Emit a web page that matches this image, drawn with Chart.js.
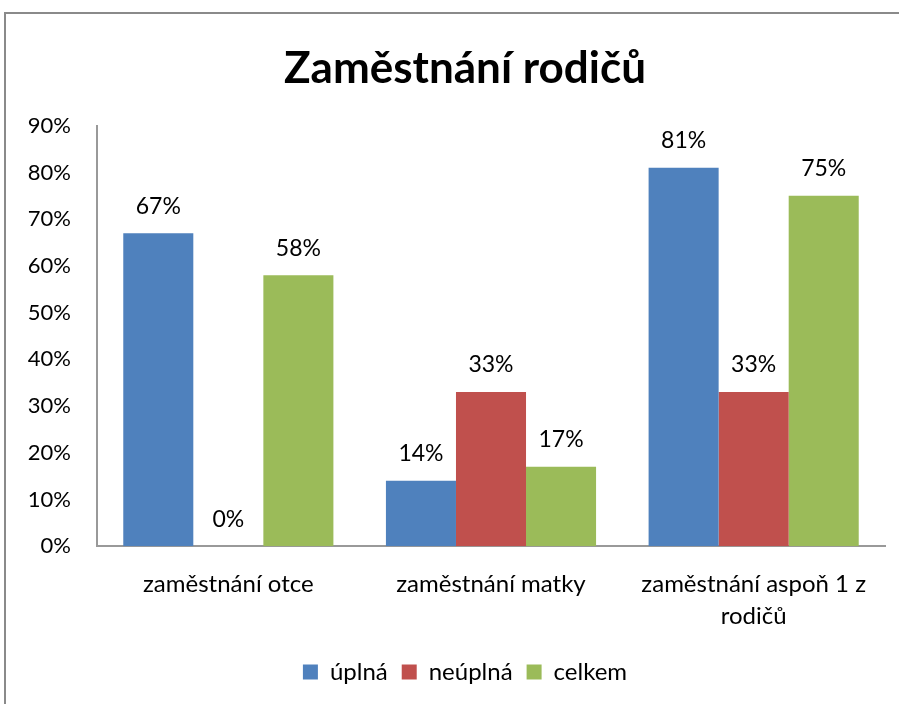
<!DOCTYPE html>
<html>
<head>
<meta charset="utf-8">
<script src="https://cdn.jsdelivr.net/npm/chart.js@4.4.1/dist/chart.umd.min.js"></script>
<style>
  html, body { margin: 0; padding: 0; background: #fff; }
  #wrap { width: 899px; height: 704px; }
</style>
</head>
<body>
<div id="wrap"><canvas id="barChart"></canvas></div>
<script>
var categories = ['zaměstnání otce', 'zaměstnání matky', ['zaměstnání aspoň 1 z', 'rodičů']];
var seriesNames = ['úplná', 'neúplná', 'celkem'];
var uplna = [67, 14, 81];
var neuplna = [0, 33, 33];
var celkem = [58, 17, 75];
var yTicks = [0, 10, 20, 30, 40, 50, 60, 70, 80, 90];

var FONT = 'Lato, "Open Sans", sans-serif';

// gray frame round the chart (top and left edges visible)
var framePlugin = {
    id: 'frame',
    beforeDraw: function (chart) {
        var ctx = chart.ctx;
        ctx.save();
        ctx.strokeStyle = '#8a8a8a';
        ctx.lineWidth = 2;
        ctx.beginPath();
        ctx.moveTo(5, 704);
        ctx.lineTo(5, 13);
        ctx.lineTo(899, 13);
        ctx.stroke();
        ctx.restore();
    }
};

// y tick labels drawn to the left of the (narrow) y scale box
var yLabels = {
    id: 'yLabels',
    afterDraw: function (chart) {
        var ctx = chart.ctx;
        var y = chart.scales.y;
        ctx.save();
        ctx.font = '22px ' + FONT;
        ctx.fillStyle = '#000';
        ctx.textAlign = 'right';
        ctx.textBaseline = 'middle';
        yTicks.forEach(function (v) {
            ctx.fillText(v + '%', y.right - 26, y.getPixelForValue(v));
        });
        ctx.restore();
    }
};

// value labels above each bar
var valueLabels = {
    id: 'valueLabels',
    afterDatasetsDraw: function (chart) {
        var ctx = chart.ctx;
        ctx.save();
        ctx.font = '23px ' + FONT;
        ctx.fillStyle = '#000';
        ctx.textAlign = 'center';
        ctx.textBaseline = 'middle';
        chart.data.datasets.forEach(function (ds, i) {
            chart.getDatasetMeta(i).data.forEach(function (bar, j) {
                ctx.fillText(ds.data[j] + '%', bar.x, bar.y - 27);
            });
        });
        ctx.restore();
    }
};

var ctx = document.getElementById('barChart').getContext('2d');
var chart = new Chart(ctx, {
    type: 'bar',
    data: {
        labels: categories,
        datasets: [{
            label: seriesNames[0],
            data: uplna,
            backgroundColor: '#4F81BD'
        }, {
            label: seriesNames[1],
            data: neuplna,
            backgroundColor: '#C0504D'
        }, {
            label: seriesNames[2],
            data: celkem,
            backgroundColor: '#9BBB59'
        }]
    },
    options: {
        responsive: true,
        maintainAspectRatio: false,
        animation: false,
        categoryPercentage: 0.8,
        barPercentage: 1.0,
        layout: { padding: { left: 45, right: 14, top: 22, bottom: 10 } },
        plugins: {
            title: {
                display: true,
                text: 'Zaměstnání rodičů',
                color: '#000',
                font: { family: FONT, size: 44, weight: 'bold' },
                padding: { top: 20, bottom: 31 }
            },
            legend: {
                position: 'bottom',
                labels: {
                    color: '#000',
                    font: { family: FONT, size: 24 },
                    boxWidth: 15,
                    boxHeight: 15,
                    padding: 14
                }
            },
            tooltip: { enabled: false }
        },
        scales: {
            x: {
                grid: { display: false },
                border: { color: '#999', width: 2 },
                ticks: {
                    color: '#000',
                    font: { family: FONT, size: 24, lineHeight: 1.33 },
                    padding: 14,
                    maxRotation: 0
                }
            },
            y: {
                min: 0,
                max: 90,
                afterBuildTicks: function (scale) {
                    scale.ticks = yTicks.map(function (v) { return { value: v }; });
                },
                afterFit: function (scale) { scale.width = 52; },
                grid: { display: false },
                border: { color: '#999', width: 2 },
                ticks: { display: false }
            }
        }
    },
    plugins: [framePlugin, yLabels, valueLabels]
});
</script>
</body>
</html>
